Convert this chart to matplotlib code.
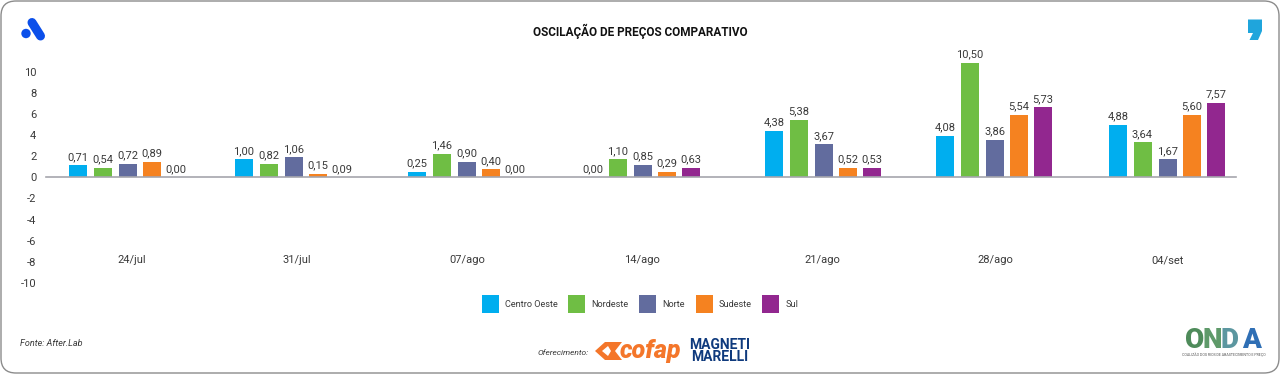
import matplotlib
matplotlib.use("Agg")
import matplotlib.pyplot as plt
from matplotlib.patches import FancyBboxPatch, Polygon, Circle

plt.rcParams['font.family'] = ['Roboto', 'DejaVu Sans']

# categories and series
semanas = ['24/jul', '31/jul', '07/ago', '14/ago', '21/ago', '28/ago', '04/set']
regioes = ['Centro Oeste', 'Nordeste', 'Norte', 'Sudeste', 'Sul']
cores = ['#00AEEF', '#6FBE44', '#626C9E', '#F58220', '#92278F']

# bar heights (the printed labels do not match them exactly)
centro_oeste = [1.14, 1.69, 0.50, 0.00, 4.40, 3.90, 4.95]
nordeste = [0.89, 1.30, 2.20, 1.68, 5.45, 10.83, 3.30]
norte = [1.24, 1.88, 1.45, 1.18, 3.10, 3.52, 1.69]
sudeste = [1.46, 0.29, 0.76, 0.50, 0.89, 5.88, 5.88]
sul = [0.00, 0.00, 0.00, 0.89, 0.89, 6.60, 7.02]

# printed labels
lab_centro_oeste = ['0,71', '1,00', '0,25', '0,00', '4,38', '4,08', '4,88']
lab_nordeste = ['0,54', '0,82', '1,46', '1,10', '5,38', '10,50', '3,64']
lab_norte = ['0,72', '1,06', '0,90', '0,85', '3,67', '3,86', '1,67']
lab_sudeste = ['0,89', '0,15', '0,40', '0,29', '0,52', '5,54', '5,60']
lab_sul = ['0,00', '0,09', '0,00', '0,63', '0,53', '5,73', '7,57']

series = [centro_oeste, nordeste, norte, sudeste, sul]
rotulos = [lab_centro_oeste, lab_nordeste, lab_norte, lab_sudeste, lab_sul]
yticks = [10, 8, 6, 4, 2, 0, -2, -4, -6, -8, -10]

# layout, in pixels of the 1280x374 canvas
W, H = 1280, 374
grupo_x = [69, 235, 408, 584, 765, 936, 1109]
tick_x = [132, 297, 467, 642, 822, 995, 1168]
offset = [0, 24.5, 50, 74, 98]
bar_w = 18
TXT = '#3a3a3a'

fig = plt.figure(figsize=(W / 100, H / 100), dpi=100, facecolor='white')

# background layer for frame, title and logos
bg = fig.add_axes([0, 0, 1, 1])
bg.set_xlim(0, W)
bg.set_ylim(H, 0)
bg.axis('off')
bg.add_patch(FancyBboxPatch((1, 1), W - 2, H - 2,
                            boxstyle='round,pad=0,rounding_size=15',
                            fc='white', ec='#8c8c8c', lw=1.0))

bg.text(640.5, 31.5, 'OSCILAÇÃO DE PREÇOS COMPARATIVO', ha='center', va='center',
        fontsize=8.5, fontweight='bold', color='#111111')

# blue logo top left
bg.plot([32, 40.5], [22.5, 36], color='#0B4FEA', lw=6.5, solid_capstyle='round')
bg.add_patch(Circle((26, 33.5), 4.7, fc='#0B4FEA', ec='none'))

# comma top right
bg.add_patch(Polygon([(1248, 19.5), (1262, 19.5), (1262, 31), (1258, 40), (1249.5, 40),
                      (1253, 33), (1248, 33)], closed=True, fc='#1FA5DC', ec='none'))

bg.text(20, 344, 'Fonte: After.Lab', fontsize=6.5, style='italic', color=TXT, va='center')
bg.text(538, 353, 'Oferecimento:', fontsize=6, style='italic', color=TXT, va='center')

# cofap logo
bg.add_patch(Polygon([(595, 351), (605, 342), (622, 342), (615, 351), (622, 360),
                      (605, 360)], closed=True, fc='#F4762A', ec='none'))
bg.add_patch(Polygon([(602, 351), (608, 346), (611, 351), (608, 356)], closed=True,
                     fc='white', ec='none'))
bg.text(620, 351, 'cofap', fontsize=18, fontweight='black', style='italic',
        color='#F4762A', va='center')

# magneti marelli logo
marca = ['Liberation Sans Narrow', 'Roboto']
bg.text(720, 345, 'MAGNETI', fontsize=10, fontweight='bold', color='#0F3A7D', ha='center',
        va='center', family=marca)
bg.text(720, 357, 'MARELLI', fontsize=10, fontweight='bold', color='#0F3A7D', ha='center',
        va='center', family=marca)

# onda logo
for letra, x, c in zip('ONDA', [1195, 1212, 1230, 1251], ['#4E8B5A', '#5F9A6A', '#5C97A0', '#2F6FB5']):
    bg.text(x, 341, letra, fontsize=20, fontweight='black', color=c, ha='center', va='center')
bg.text(1224, 355, 'COALIZÃO DOS RIOS DE ABASTECIMENTO E PREÇO', fontsize=2.6,
        color='#555555', ha='center', va='center')

# chart
ax = fig.add_axes([46 / W, 1 - 283 / H, (1236 - 46) / W, (283 - 71.5) / H])
ax.patch.set_alpha(0)
ax.set_xlim(46, 1236)
ax.set_ylim(-10, 10)

for vals, labs, nome, cor, dx in zip(series, rotulos, regioes, cores, offset):
    xs = [g + dx + bar_w / 2 for g in grupo_x]
    barras = ax.bar(xs, vals, width=bar_w, color=cor, label=nome, clip_on=False)
    for t in ax.bar_label(barras, labels=labs, padding=2.5, fontsize=8, color=TXT):
        t.set_annotation_clip(False)

for s in ['top', 'right', 'left']:
    ax.spines[s].set_visible(False)
ax.spines['bottom'].set_position(('data', 0))
ax.spines['bottom'].set_color('#a6a6ad')
ax.spines['bottom'].set_linewidth(1.2)

ax.set_yticks(yticks)
ax.set_yticklabels([str(v) for v in yticks], fontsize=8, color=TXT)
ax.tick_params(axis='y', length=0, pad=7)
ax.set_xticks(tick_x)
ax.set_xticklabels(semanas, fontsize=8, color=TXT)
ax.tick_params(axis='x', length=0, pad=56)

ax.legend(loc='center', bbox_to_anchor=((640 - 46) / 1190, -0.1), ncol=5, frameon=False,
          fontsize=6.6, handlelength=1.85, handleheight=2.64, handletextpad=0.64,
          columnspacing=1.2, labelcolor=TXT)

fig.savefig('out.png', dpi=100)
